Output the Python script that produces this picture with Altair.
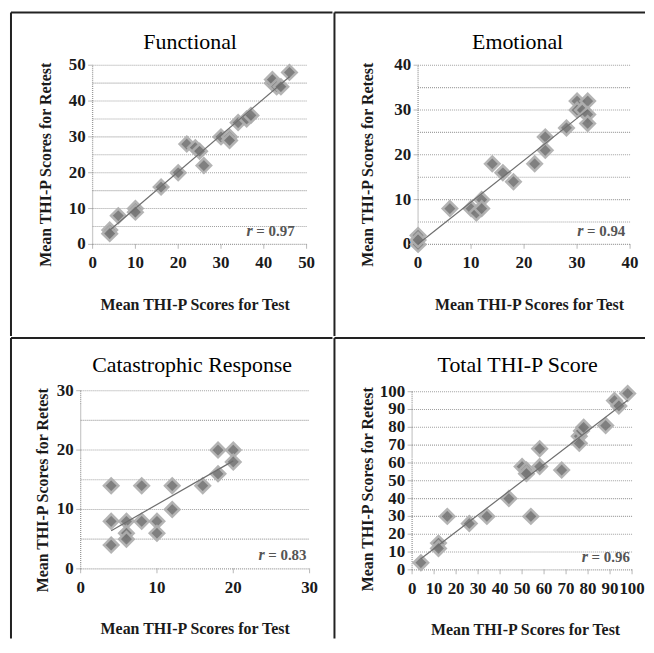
import altair as alt
import pandas as pd

FONT = "Liberation Serif"

# ---------------- data ----------------
titles = ["Functional", "Emotional", "Catastrophic Response", "Total THI-P Score"]
r_values = ["= 0.97", "= 0.94", "= 0.83", "= 0.96"]
x_title = "Mean THI-P Scores for Test"
y_title = "Mean THI-P Scores for Retest"

func_test = [4, 4, 6, 10, 10, 16, 20, 22, 24, 25, 26, 30, 32, 32, 34, 36, 37, 42, 42, 43, 44, 46]
func_retest = [4, 3, 8, 10, 9, 16, 20, 28, 27, 26, 22, 30, 30, 29, 34, 35, 36, 45, 46, 44, 44, 48]

emo_test = [0, 0, 0, 6, 10, 11, 12, 12, 14, 16, 18, 22, 24, 24, 28, 30, 30, 31, 32, 32, 32]
emo_retest = [2, 0, 1, 8, 8, 7, 10, 8, 18, 16, 14, 18, 24, 21, 26, 32, 30, 30, 32, 29, 27]

cat_test = [4, 4, 4, 6, 6, 6, 8, 8, 10, 10, 12, 12, 16, 18, 18, 20, 20]
cat_retest = [14, 8, 4, 8, 6, 5, 14, 8, 8, 6, 14, 10, 14, 16, 20, 20, 18]

tot_test = [4, 12, 12, 16, 26, 34, 44, 50, 52, 52, 54, 58, 58, 68, 76, 76, 77, 78, 88, 92, 94, 98]
tot_retest = [4, 15, 12, 30, 26, 30, 40, 58, 56, 54, 30, 68, 58, 56, 75, 71, 78, 80, 81, 95, 92, 99]

tick_labels = [
    [0, 10, 20, 30, 40, 50],
    [0, 10, 20, 30, 40],
    [0, 10, 20, 30],
    [0, 10, 20, 30, 40, 50, 60, 70, 80, 90, 100],
]
grid_values = [
    [5, 10, 15, 20, 25, 30, 35, 40, 45, 50],
    [5, 10, 15, 20, 25, 30, 35, 40],
    [5, 10, 15, 20, 25, 30],
    [10, 20, 30, 40, 50, 60, 70, 80, 90, 100],
]
r_pos = [(47.2, 3.6), (39.1, 2.9), (29.6, 2.4), (99.0, 7.3)]

AX = "#9a9a9a"


def make_cell(k, test, retest, xr, yr, cw, ch, title_xy, ytitle_xy, xtitle_xy):
    ticks = tick_labels[k]
    dmax = ticks[-1]
    df = pd.DataFrame({"test": test, "retest": retest})
    xsc = alt.Scale(domain=[0, dmax], range=xr, nice=False, zero=False)
    ysc = alt.Scale(domain=[0, dmax], range=yr, nice=False, zero=False)

    def X(f):
        return alt.X(f, scale=xsc, axis=None)

    def Y(f):
        return alt.Y(f, scale=ysc, axis=None)

    one = pd.DataFrame({"a": [0]})
    top_line = alt.Chart(one).mark_rule(color="#222", strokeWidth=2).encode(
        x=alt.value(0), x2=alt.value(cw), y=alt.value(0))
    left_line = alt.Chart(one).mark_rule(color="#222", strokeWidth=2).encode(
        x=alt.value(0), y=alt.value(0), y2=alt.value(ch))

    gdf = pd.DataFrame({"g": grid_values[k], "x0": 0, "x1": dmax})
    grid = alt.Chart(gdf).mark_rule(color="#a0a0a0", strokeDash=[1, 1], strokeWidth=1.1).encode(
        y=Y("g:Q"), x=X("x0:Q"), x2="x1:Q")

    adf = pd.DataFrame({"x0": [0, 0], "y0": [0, 0], "x1": [dmax, 0], "y1": [0, dmax]})
    axes = alt.Chart(adf).mark_rule(color=AX, strokeDash=[1, 1], strokeWidth=1.3).encode(
        x=X("x0:Q"), y=Y("y0:Q"), x2="x1:Q", y2="y1:Q")

    tdf = pd.DataFrame({"v": ticks, "zero": 0, "lab": [str(t) for t in ticks]})
    xticks = alt.Chart(tdf).mark_tick(orient="vertical", size=5, thickness=1, color=AX,
                                      yOffset=2).encode(x=X("v:Q"), y=Y("zero:Q"))
    yticks = alt.Chart(tdf).mark_tick(orient="horizontal", size=5, thickness=1, color=AX,
                                      xOffset=-2).encode(x=X("zero:Q"), y=Y("v:Q"))
    xlabs = alt.Chart(tdf).mark_text(font=FONT, fontSize=17, fontWeight="bold", color="#1a1a1a",
                                     align="center", baseline="middle", dy=19).encode(
        x=X("v:Q"), y=Y("zero:Q"), text="lab:N")
    ylabs = alt.Chart(tdf).mark_text(font=FONT, fontSize=17, fontWeight="bold", color="#1a1a1a",
                                     align="right", baseline="middle", dx=-7).encode(
        x=X("zero:Q"), y=Y("v:Q"), text="lab:N")

    pts = alt.Chart(df).mark_point(shape="diamond", filled=True, size=210, fill="#767676",
                                   stroke="#aeaeae", strokeWidth=2.5, opacity=0.92).encode(
        x=X("test:Q"), y=Y("retest:Q"))

    reg = alt.Chart(df).transform_regression("test", "retest").mark_line(
        color="#6e6e6e", strokeWidth=1.2).encode(x=X("test:Q"), y=Y("retest:Q"))

    rdf = pd.DataFrame({"rx": [r_pos[k][0]], "ry": [r_pos[k][1]], "t": [r_values[k]], "r": ["r"]})
    rnum = alt.Chart(rdf).mark_text(font=FONT, fontSize=15, fontWeight="bold", color="#555",
                                    align="right", baseline="middle").encode(
        x=X("rx:Q"), y=Y("ry:Q"), text="t:N")
    rlet = alt.Chart(rdf).mark_text(font=FONT, fontSize=16, fontStyle="italic", fontWeight="bold",
                                    color="#555", align="right", baseline="middle", dx=-42).encode(
        x=X("rx:Q"), y=Y("ry:Q"), text="r:N")

    txt = pd.DataFrame({"t": [titles[k]], "xt": [x_title], "yt": [y_title]})
    ttl = alt.Chart(txt).mark_text(font=FONT, fontSize=22, color="#000", align="center",
                                   baseline="middle").encode(
        x=alt.value(title_xy[0]), y=alt.value(title_xy[1]), text="t:N")
    ytl = alt.Chart(txt).mark_text(font=FONT, fontSize=16, fontWeight="bold", color="#1a1a1a",
                                   align="center", baseline="middle", angle=270).encode(
        x=alt.value(ytitle_xy[0]), y=alt.value(ytitle_xy[1]), text="yt:N")
    xtl = alt.Chart(txt).mark_text(font=FONT, fontSize=16, fontWeight="bold", color="#1a1a1a",
                                   align="center", baseline="middle").encode(
        x=alt.value(xtitle_xy[0]), y=alt.value(xtitle_xy[1]), text="xt:N")

    return alt.layer(top_line, left_line, grid, axes, xticks, yticks, xlabs, ylabs,
                     pts, reg, rnum, rlet, ttl, ytl, xtl).properties(width=cw, height=ch)


W1, W2 = 323, 312
H1, H2 = 325, 302

c1 = make_cell(0, func_test, func_retest, [82, 297], [233, 53], W1, H1, (180, 30), (35, 153), (185, 294))
c2 = make_cell(1, emo_test, emo_retest, [84, 297], [233, 53], W2, H1, (184, 30), (34, 153), (196, 294))
c3 = make_cell(2, cat_test, cat_retest, [70, 300], [232, 53], W1, H2, (182, 27), (32, 153), (185, 292))
c4 = make_cell(3, tot_test, tot_retest, [78, 299], [233, 54], W2, H2, (184, 27), (34, 152), (192, 293))

chart = alt.vconcat(
    alt.hconcat(c1, c2, spacing=0),
    alt.hconcat(c3, c4, spacing=0),
    spacing=0,
).properties(
    padding={"left": 2, "top": 2, "right": 0, "bottom": 0}
).configure_view(stroke=None).configure_concat(spacing=0)

chart.save("out.html", embed_options={"renderer": "svg", "actions": False})
